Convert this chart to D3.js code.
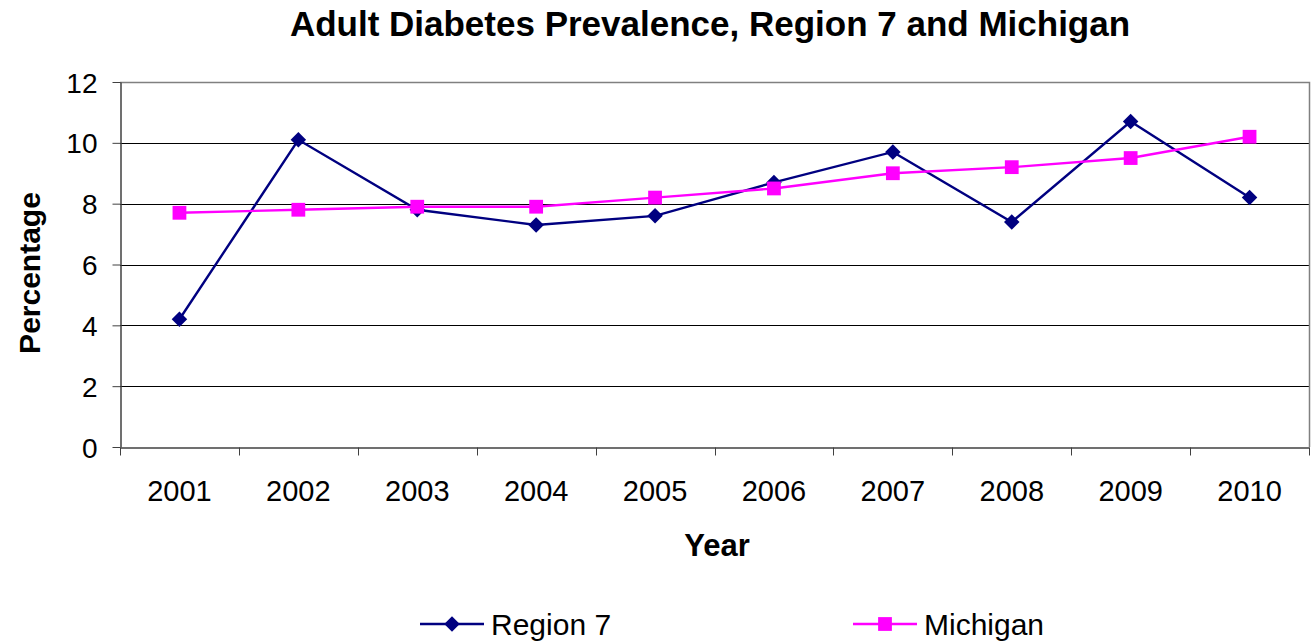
<!DOCTYPE html>
<html lang="en">
	<head>
		<meta charset="utf-8">
		<title>Adult Diabetes Prevalence</title>
		<script type="text/javascript" src="https://d3js.org/d3.v7.min.js"></script>
		<style type="text/css">
			body { margin: 0; background: #fff; }
			text { font-family: "Liberation Sans", Arial, sans-serif; fill: #000; }
		</style>
	</head>
	<body>
		<script type="text/javascript">

			//Data
			var years = ["2001", "2002", "2003", "2004", "2005", "2006", "2007", "2008", "2009", "2010"];
			var region7 = [4.2, 10.1, 7.8, 7.3, 7.6, 8.7, 9.7, 7.4, 10.7, 8.2];
			var michigan = [7.7, 7.8, 7.9, 7.9, 8.2, 8.5, 9.0, 9.2, 9.5, 10.2];
			var yTicks = [0, 2, 4, 6, 8, 10, 12];

			//Width and height
			var w = 1311;
			var h = 641;
			var pLeft = 120, pRight = 1309, pTop = 82, pBottom = 447;

			var svg = d3.select("body")
						.append("svg")
						.attr("width", w)
						.attr("height", h);

			//Scales
			var xScale = d3.scaleBand()
				.domain(years)
				.range([pLeft, pRight]);

			var yScale = d3.scaleLinear()
				.domain([0, 12])
				.range([pBottom, pTop]);

			//Gridlines
			svg.append("g")
				.selectAll("line")
				.data(yTicks.filter(function(d) { return d > 0 && d < 12; }))
				.enter()
				.append("line")
				.attr("x1", pLeft)
				.attr("x2", pRight)
				.attr("y1", function(d) { return Math.round(yScale(d)) + 0.5; })
				.attr("y2", function(d) { return Math.round(yScale(d)) + 0.5; })
				.attr("stroke", "#000")
				.attr("stroke-width", 1);

			//Frame top and right
			svg.append("path")
				.attr("d", "M" + pLeft + "," + (pTop + 0.5) + "H" + (pRight + 0.5) + "V" + pBottom)
				.attr("fill", "none")
				.attr("stroke", "#808080")
				.attr("stroke-width", 1.5);

			//Y axis
			var yAxis = d3.axisLeft(yScale)
				.tickValues(yTicks)
				.tickSizeInner(8)
				.tickSizeOuter(0)
				.tickPadding(15);

			var gy = svg.append("g")
				.attr("transform", "translate(" + (pLeft + 0.5) + ",0)")
				.call(yAxis);
			gy.selectAll("text").style("font-size", "28px").attr("dy", "0.36em");
			gy.select(".domain").attr("stroke", "#404040").attr("stroke-width", 1.5);
			gy.selectAll(".tick line").attr("stroke", "#404040");

			//X axis, ticks between categories
			var xAxis = d3.axisBottom(xScale)
				.tickSize(0)
				.tickPadding(33);

			var gx = svg.append("g")
				.attr("transform", "translate(0," + (pBottom + 0.5) + ")")
				.call(xAxis);
			gx.selectAll("text").style("font-size", "29px");
			gx.select(".domain").attr("stroke", "#404040").attr("stroke-width", 1.5);

			gx.selectAll(".sep")
				.data(d3.range(years.length + 1))
				.enter()
				.append("line")
				.attr("x1", function(i) { return Math.round(pLeft + i * xScale.step()) + 0.5; })
				.attr("x2", function(i) { return Math.round(pLeft + i * xScale.step()) + 0.5; })
				.attr("y1", 0)
				.attr("y2", 8)
				.attr("stroke", "#404040");

			//Lines and markers
			var cx = function(d, i) { return xScale(years[i]) + xScale.bandwidth() / 2; };
			var line = d3.line()
				.x(cx)
				.y(function(d) { return yScale(d); });

			var diamond = d3.symbol().type(d3.symbolSquare).size(120);
			var square = d3.symbol().type(d3.symbolSquare).size(190);

			// Region 7 drawn first, Michigan sits on top
			svg.append("path")
				.datum(region7)
				.attr("d", line)
				.attr("fill", "none")
				.attr("stroke", "#000080")
				.attr("stroke-width", 2.4);

			svg.append("g")
				.selectAll("path")
				.data(region7)
				.enter()
				.append("path")
				.attr("d", diamond)
				.attr("transform", function(d, i) {
					return "translate(" + cx(d, i) + "," + yScale(d) + ") rotate(45)";
				})
				.attr("fill", "#000080");

			svg.append("path")
				.datum(michigan)
				.attr("d", line)
				.attr("fill", "none")
				.attr("stroke", "#ff00ff")
				.attr("stroke-width", 2.4);

			svg.append("g")
				.selectAll("path")
				.data(michigan)
				.enter()
				.append("path")
				.attr("d", square)
				.attr("transform", function(d, i) {
					return "translate(" + cx(d, i) + "," + yScale(d) + ")";
				})
				.attr("fill", "#ff00ff");

			//Titles
			svg.append("text")
				.attr("x", 710)
				.attr("y", 36)
				.attr("text-anchor", "middle")
				.style("font-size", "35px")
				.style("font-weight", "bold")
				.text("Adult Diabetes Prevalence, Region 7 and Michigan");

			svg.append("text")
				.attr("x", 717)
				.attr("y", 556)
				.attr("text-anchor", "middle")
				.style("font-size", "31px")
				.style("font-weight", "bold")
				.text("Year");

			svg.append("text")
				.attr("transform", "translate(40,273) rotate(-90)")
				.attr("text-anchor", "middle")
				.style("font-size", "30px")
				.style("font-weight", "bold")
				.text("Percentage");

			//Legend
			var legend = [
				{ name: "Region 7", color: "#000080", x: 420, sym: "diamond" },
				{ name: "Michigan", color: "#ff00ff", x: 853, sym: "square" }
			];
			var lg = svg.append("g")
				.selectAll("g")
				.data(legend)
				.enter()
				.append("g")
				.attr("transform", function(d) { return "translate(" + d.x + ",624)"; });

			lg.append("line")
				.attr("x1", 0)
				.attr("x2", 64)
				.attr("stroke", function(d) { return d.color; })
				.attr("stroke-width", 2.4);

			lg.append("path")
				.attr("d", function(d) { return d.sym === "diamond" ? diamond() : square(); })
				.attr("transform", function(d) { return "translate(32,0)" + (d.sym === "diamond" ? " rotate(45)" : ""); })
				.attr("fill", function(d) { return d.color; });

			lg.append("text")
				.attr("x", 71)
				.attr("dy", "0.36em")
				.style("font-size", "30px")
				.text(function(d) { return d.name; });

		</script>
	</body>
</html>
